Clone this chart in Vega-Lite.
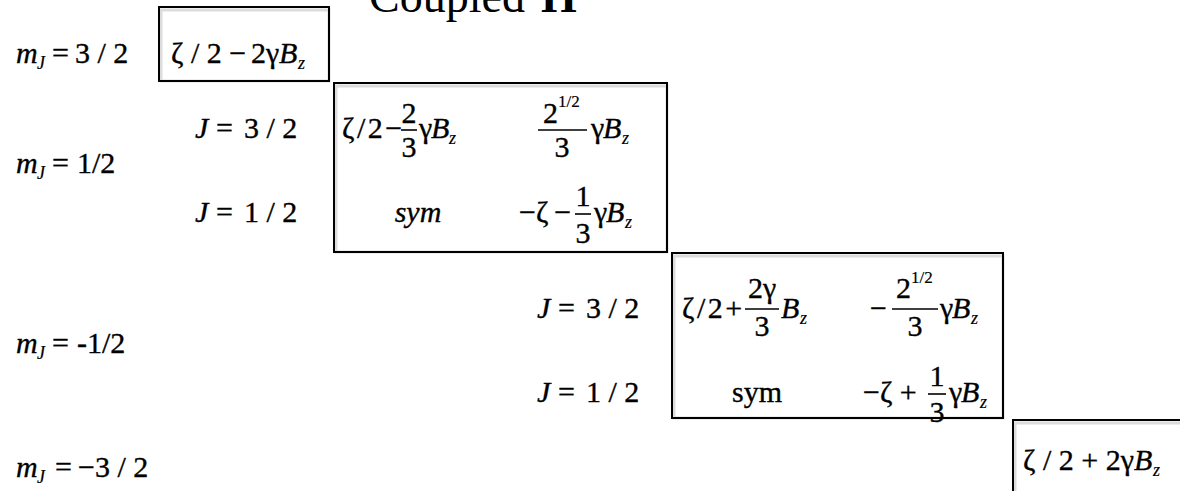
{
  "$schema": "https://vega.github.io/schema/vega-lite/v6.json",
  "width": 1180,
  "height": 491,
  "padding": 0,
  "autosize": {"type": "none"},
  "background": "white",
  "config": {"view": {"stroke": null}},
  "datasets": {
    "boxes": [
      {"x": 159, "x2": 329, "y": 7, "y2": 81},
      {"x": 334, "x2": 667, "y": 83, "y2": 252},
      {"x": 672, "x2": 1003, "y": 253, "y2": 418},
      {"x": 1013, "x2": 1220, "y": 420, "y2": 530}
    ],
    "bars": [
      {"x": 401, "x2": 417, "y": 130},
      {"x": 538, "x2": 587, "y": 130},
      {"x": 575, "x2": 591, "y": 214},
      {"x": 745, "x2": 779, "y": 309},
      {"x": 892, "x2": 938, "y": 309},
      {"x": 928, "x2": 946, "y": 394}
    ],
    "tokens": [
      {"x": 369, "y": 12, "t": "Coupled", "k": "title"},
      {"x": 541, "y": 12, "t": "H", "k": "titleb"},

      {"x": 16, "y": 63, "t": "m", "k": "it"},
      {"x": 37, "y": 69, "t": "J", "k": "sub"},
      {"x": 52, "y": 63, "t": "=", "k": "up"},
      {"x": 75, "y": 63, "t": "3 / 2", "k": "up"},
      {"x": 16, "y": 173, "t": "m", "k": "it"},
      {"x": 37, "y": 179, "t": "J", "k": "sub"},
      {"x": 52, "y": 173, "t": "=", "k": "up"},
      {"x": 77, "y": 173, "t": "1/2", "k": "up"},
      {"x": 16, "y": 353, "t": "m", "k": "it"},
      {"x": 37, "y": 359, "t": "J", "k": "sub"},
      {"x": 52, "y": 353, "t": "=", "k": "up"},
      {"x": 77, "y": 353, "t": "-1/2", "k": "up"},
      {"x": 16, "y": 477, "t": "m", "k": "it"},
      {"x": 37, "y": 483, "t": "J", "k": "sub"},
      {"x": 55, "y": 477, "t": "=", "k": "up"},
      {"x": 78, "y": 477, "t": "−3 / 2", "k": "up"},

      {"x": 171, "y": 63, "t": "ζ / 2 −", "k": "up"},
      {"x": 251, "y": 63, "t": "2γ", "k": "up"},
      {"x": 279, "y": 63, "t": "B", "k": "it"},
      {"x": 298, "y": 69, "t": "z", "k": "sub"},

      {"x": 195, "y": 138, "t": "J", "k": "it"},
      {"x": 216, "y": 138, "t": "=", "k": "up"},
      {"x": 244, "y": 138, "t": "3 / 2", "k": "up"},
      {"x": 195, "y": 222, "t": "J", "k": "it"},
      {"x": 216, "y": 222, "t": "=", "k": "up"},
      {"x": 244, "y": 222, "t": "1 / 2", "k": "up"},

      {"x": 342, "y": 138, "t": "ζ\u200a/\u200a2\u200a−", "k": "up"},
      {"x": 409, "y": 123, "t": "2", "k": "upc"},
      {"x": 409, "y": 157, "t": "3", "k": "upc"},
      {"x": 419, "y": 138, "t": "γ", "k": "up"},
      {"x": 431, "y": 138, "t": "B", "k": "it"},
      {"x": 449, "y": 144, "t": "z", "k": "sub"},

      {"x": 543, "y": 123, "t": "2", "k": "up"},
      {"x": 558, "y": 107, "t": "1/2", "k": "sup"},
      {"x": 562, "y": 157, "t": "3", "k": "upc"},
      {"x": 591, "y": 138, "t": "γ", "k": "up"},
      {"x": 603, "y": 138, "t": "B", "k": "it"},
      {"x": 622, "y": 144, "t": "z", "k": "sub"},

      {"x": 418, "y": 222, "t": "sym", "k": "itc"},
      {"x": 519, "y": 222, "t": "−ζ\u2009−", "k": "up"},
      {"x": 583, "y": 206, "t": "1", "k": "upc"},
      {"x": 583, "y": 243, "t": "3", "k": "upc"},
      {"x": 594, "y": 222, "t": "γ", "k": "up"},
      {"x": 606, "y": 222, "t": "B", "k": "it"},
      {"x": 625, "y": 228, "t": "z", "k": "sub"},

      {"x": 537, "y": 318, "t": "J", "k": "it"},
      {"x": 558, "y": 318, "t": "=", "k": "up"},
      {"x": 586, "y": 318, "t": "3 / 2", "k": "up"},
      {"x": 537, "y": 402, "t": "J", "k": "it"},
      {"x": 558, "y": 402, "t": "=", "k": "up"},
      {"x": 586, "y": 402, "t": "1 / 2", "k": "up"},

      {"x": 682, "y": 318, "t": "ζ\u200a/\u200a2\u200a+", "k": "up"},
      {"x": 762, "y": 298, "t": "2γ", "k": "upc"},
      {"x": 762, "y": 336, "t": "3", "k": "upc"},
      {"x": 781, "y": 318, "t": "B", "k": "it"},
      {"x": 800, "y": 324, "t": "z", "k": "sub"},

      {"x": 870, "y": 318, "t": "−", "k": "up"},
      {"x": 896, "y": 298, "t": "2", "k": "up"},
      {"x": 911, "y": 283, "t": "1/2", "k": "sup"},
      {"x": 915, "y": 336, "t": "3", "k": "upc"},
      {"x": 940, "y": 318, "t": "γ", "k": "up"},
      {"x": 952, "y": 318, "t": "B", "k": "it"},
      {"x": 971, "y": 324, "t": "z", "k": "sub"},

      {"x": 757, "y": 402, "t": "sym", "k": "upc"},
      {"x": 863, "y": 402, "t": "−ζ +", "k": "up"},
      {"x": 937, "y": 386, "t": "1", "k": "upc"},
      {"x": 937, "y": 422, "t": "3", "k": "upc"},
      {"x": 949, "y": 402, "t": "γ", "k": "up"},
      {"x": 961, "y": 402, "t": "B", "k": "it"},
      {"x": 980, "y": 408, "t": "z", "k": "sub"},

      {"x": 1023, "y": 470, "t": "ζ / 2 + 2γ", "k": "up"},
      {"x": 1134, "y": 470, "t": "B", "k": "it"},
      {"x": 1153, "y": 476, "t": "z", "k": "sub"}
    ]
  },
  "encoding": {
    "x": {"field": "x", "type": "quantitative", "scale": {"domain": [0, 1180], "nice": false, "zero": false}, "axis": null},
    "y": {"field": "y", "type": "quantitative", "scale": {"domain": [0, 491], "nice": false, "zero": false, "reverse": true}, "axis": null}
  },
  "layer": [
    {
      "data": {"name": "boxes"},
      "mark": {"type": "rect", "fillOpacity": 0, "stroke": "#dcdcdc", "strokeWidth": 3, "xOffset": 2, "yOffset": 3, "clip": true},
      "encoding": {"x2": {"field": "x2"}, "y2": {"field": "y2"}}
    },
    {
      "data": {"name": "boxes"},
      "mark": {"type": "rect", "fillOpacity": 0, "stroke": "#000000", "strokeWidth": 2, "clip": true},
      "encoding": {"x2": {"field": "x2"}, "y2": {"field": "y2"}}
    },
    {
      "data": {"name": "bars"},
      "mark": {"type": "rule", "stroke": "#000000", "strokeWidth": 1.6},
      "encoding": {"x2": {"field": "x2"}}
    },
    {
      "data": {"name": "tokens"},
      "transform": [{"filter": "datum.k === 'up'"}],
      "mark": {"type": "text", "align": "left", "baseline": "alphabetic", "font": "Liberation Serif", "fontSize": 30, "color": "#000000", "stroke": "#000000", "strokeWidth": 0.35},
      "encoding": {"text": {"field": "t"}}
    },
    {
      "data": {"name": "tokens"},
      "transform": [{"filter": "datum.k === 'it'"}],
      "mark": {"type": "text", "align": "left", "baseline": "alphabetic", "font": "Liberation Serif", "fontSize": 30, "fontStyle": "italic", "color": "#000000", "stroke": "#000000", "strokeWidth": 0.35},
      "encoding": {"text": {"field": "t"}}
    },
    {
      "data": {"name": "tokens"},
      "transform": [{"filter": "datum.k === 'sub'"}],
      "mark": {"type": "text", "align": "left", "baseline": "alphabetic", "font": "Liberation Serif", "fontSize": 18, "fontStyle": "italic", "color": "#000000", "stroke": "#000000", "strokeWidth": 0.2},
      "encoding": {"text": {"field": "t"}}
    },
    {
      "data": {"name": "tokens"},
      "transform": [{"filter": "datum.k === 'sup'"}],
      "mark": {"type": "text", "align": "left", "baseline": "alphabetic", "font": "Liberation Serif", "fontSize": 17, "color": "#000000", "stroke": "#000000", "strokeWidth": 0.2},
      "encoding": {"text": {"field": "t"}}
    },
    {
      "data": {"name": "tokens"},
      "transform": [{"filter": "datum.k === 'upc'"}],
      "mark": {"type": "text", "align": "center", "baseline": "alphabetic", "font": "Liberation Serif", "fontSize": 30, "color": "#000000", "stroke": "#000000", "strokeWidth": 0.35},
      "encoding": {"text": {"field": "t"}}
    },
    {
      "data": {"name": "tokens"},
      "transform": [{"filter": "datum.k === 'itc'"}],
      "mark": {"type": "text", "align": "center", "baseline": "alphabetic", "font": "Liberation Serif", "fontSize": 30, "fontStyle": "italic", "color": "#000000", "stroke": "#000000", "strokeWidth": 0.35},
      "encoding": {"text": {"field": "t"}}
    },
    {
      "data": {"name": "tokens"},
      "transform": [{"filter": "datum.k === 'title'"}],
      "mark": {"type": "text", "align": "left", "baseline": "alphabetic", "font": "Liberation Serif", "fontSize": 46, "color": "#000000"},
      "encoding": {"text": {"field": "t"}}
    },
    {
      "data": {"name": "tokens"},
      "transform": [{"filter": "datum.k === 'titleb'"}],
      "mark": {"type": "text", "align": "left", "baseline": "alphabetic", "font": "Liberation Serif", "fontSize": 46, "fontWeight": "bold", "color": "#000000"},
      "encoding": {"text": {"field": "t"}}
    }
  ]
}
